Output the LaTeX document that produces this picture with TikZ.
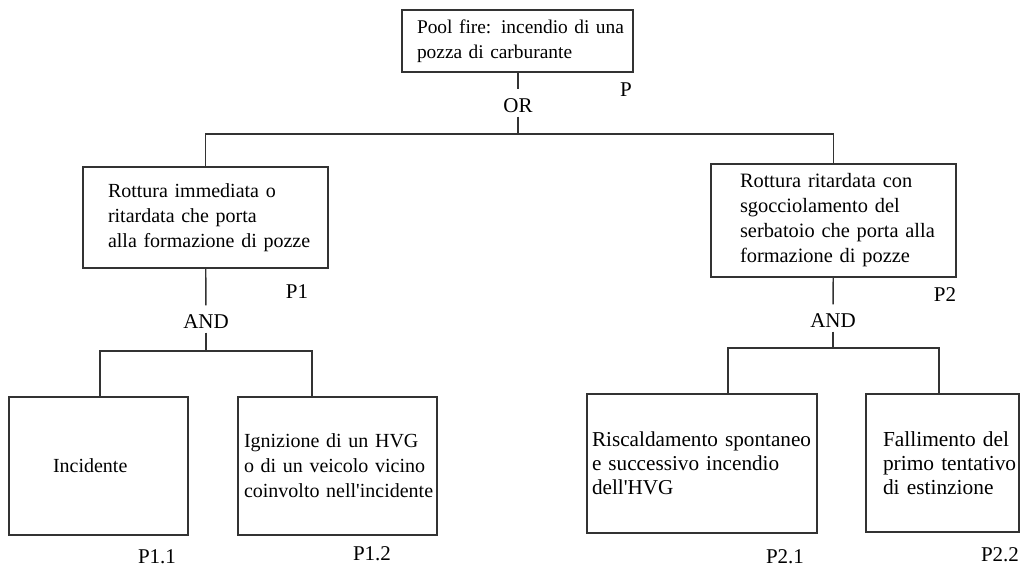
\documentclass[tikz,border=0pt]{standalone}
\usepackage{fontspec}
\setmainfont{Liberation Serif}
\begin{document}
\begin{tikzpicture}[x=0.5pt,y=-0.5pt,line width=0.7pt]
  \tikzstyle{B}=[draw=black!80,align=left,inner xsep=0pt,inner ysep=0pt,font=\fontsize{10}{12.5}\selectfont]
  \tikzstyle{lpad}=[execute at begin node={\leftskip=#1}]
  \tikzstyle{G}=[inner xsep=1pt,inner ysep=2pt,text height=9pt,text depth=0pt,font=\fontsize{10.5}{12}\selectfont]
  \tikzstyle{L}=[inner sep=0pt,font=\fontsize{10.5}{12}\selectfont]
  \useasboundingbox (0,0) rectangle (1021,568);

  \node[B,lpad=7.5pt,text width=115.5pt,minimum height=31pt,font=\fontsize{9.7}{12.5}\selectfont] (P) at (517.5,41) {Pool fire: incendio di una\\pozza di carburante};
  \node[B,lpad=12.5pt,text width=122.5pt,minimum height=50.5pt] (P1) at (205.5,217.5) {Rottura immediata o\\ritardata che porta\\alla formazione di pozze};
  \node[B,lpad=14.5pt,text width=122.5pt,minimum height=56.5pt,font=\fontsize{10.2}{12.5}\selectfont] (P2) at (833.5,220.5) {Rottura ritardata con\\sgocciolamento del\\serbatoio che porta alla\\formazione di pozze};
  \node[B,lpad=22pt,text width=89.5pt,minimum height=69pt] (P11) at (98.5,466) {Incidente};
  \node[B,lpad=3pt,text width=99.5pt,minimum height=69pt] (P12) at (337.5,466) {Ignizione di un HVG\\o di un veicolo vicino\\coinvolto nell\textquotesingle incidente};
  \node[B,lpad=2.5pt,text width=115pt,minimum height=69.5pt,font=\fontsize{10.6}{12}\selectfont] (P21) at (702,463.5) {Riscaldamento spontaneo\\e successivo incendio\\dell\textquotesingle HVG};
  \node[B,lpad=8.5pt,text width=76.5pt,minimum height=69pt,font=\fontsize{10.7}{12}\selectfont] (P22) at (942.5,463) {Fallimento del\\primo tentativo\\di estinzione};

  \node[G] (OR) at (518,103) {OR};
  \node[G] (AND1) at (206,319) {AND};
  \node[G] (AND2) at (833,318) {AND};

  \node[L] (lP) at (626,90) {P};
  \node[L] (lP1) at (297,292) {P1};
  \node[L] (lP2) at (945,295) {P2};
  \node[L] (lP11) at (157,557) {P1.1};
  \node[L] (lP12) at (372,554) {P1.2};
  \node[L] (lP21) at (785,557) {P2.1};
  \node[L] (lP22) at (1000,555) {P2.2};

  \coordinate (J0) at (518,134);
  \coordinate (J1a) at (100,351);
  \coordinate (J1b) at (312,351);
  \coordinate (J2a) at (728,348);
  \coordinate (J2b) at (939,348);

  \draw[black!80] (OR |- P.south) -- (OR);
  \draw[black!80] (OR) -- (J0);
  \draw[black!80] (P1) |- (J0) -| (P2);

  \draw[black!80] (P1) -- (AND1);
  \draw[black!80] (AND1) -- (AND1 |- J1a);
  \draw[black!80] (P11.north -| J1a) |- (J1b) -- (J1b |- P12.north);

  \draw[black!80] (P2) -- (AND2);
  \draw[black!80] (AND2) -- (AND2 |- J2a);
  \draw[black!80] (P21.north -| J2a) |- (J2b) -- (J2b |- P22.north);
\end{tikzpicture}
\end{document}
